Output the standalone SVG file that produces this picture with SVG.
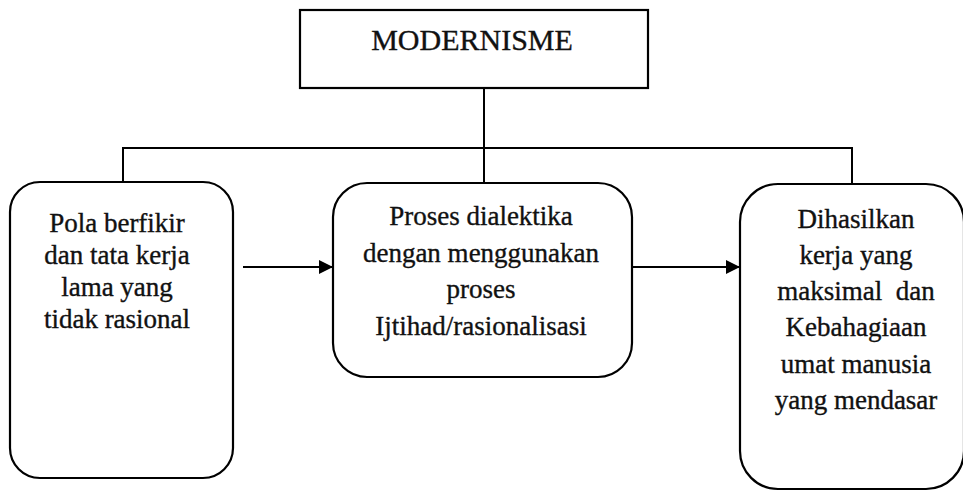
<svg xmlns="http://www.w3.org/2000/svg" width="963" height="491" viewBox="0 0 963 491">
<defs>
<style>
.box{fill:#fff;stroke:#000;stroke-width:2.2}
.ln{fill:none;stroke:#000;stroke-width:2}
text{font-family:'Liberation Serif',Tinos,'DejaVu Serif',serif;font-size:27px;fill:#111;stroke:#111;stroke-width:0.35;text-anchor:middle}
text.title{font-size:30px}
</style>
<marker id="ah" viewBox="0 0 14 14" refX="13" refY="7" markerWidth="14" markerHeight="14" markerUnits="userSpaceOnUse" orient="auto">
<path d="M0,0 L14,7 L0,14 z" fill="#000"/>
</marker>
</defs>
<rect width="963" height="491" fill="#fff"/>
<g id="connectors">
<path class="ln" d="M484,88 V183"/>
<path class="ln" d="M123,182 V148 H852 V184"/>
<path class="ln" d="M243,267 H332" marker-end="url(#ah)"/>
<path class="ln" d="M633,267 H739" marker-end="url(#ah)"/>
</g>
<g id="modernisme">
<rect class="box" x="300" y="10" width="348" height="78"/>
<text class="title" x="472" y="50">MODERNISME</text>
</g>
<g id="pola">
<rect class="box" x="10" y="182" width="223" height="296" rx="30"/>
<text x="117" y="232">Pola berfikir</text>
<text x="117" y="264">dan tata kerja</text>
<text x="117" y="296">lama yang</text>
<text x="117" y="328">tidak rasional</text>
</g>
<g id="proses">
<rect class="box" x="333" y="183" width="299" height="194" rx="34"/>
<text x="481" y="225">Proses dialektika</text>
<text x="481" y="262">dengan menggunakan</text>
<text x="481" y="298">proses</text>
<text x="481" y="335">Ijtihad/rasionalisasi</text>
</g>
<g id="hasil">
<rect class="box" x="740" y="184" width="224" height="305" rx="38"/>
<text x="856" y="228">Dihasilkan</text>
<text x="856" y="264">kerja yang</text>
<text x="856" y="300" xml:space="preserve">maksimal  dan</text>
<text x="856" y="336">Kebahagiaan</text>
<text x="856" y="373">umat manusia</text>
<text x="856" y="409">yang mendasar</text>
</g>
</svg>
